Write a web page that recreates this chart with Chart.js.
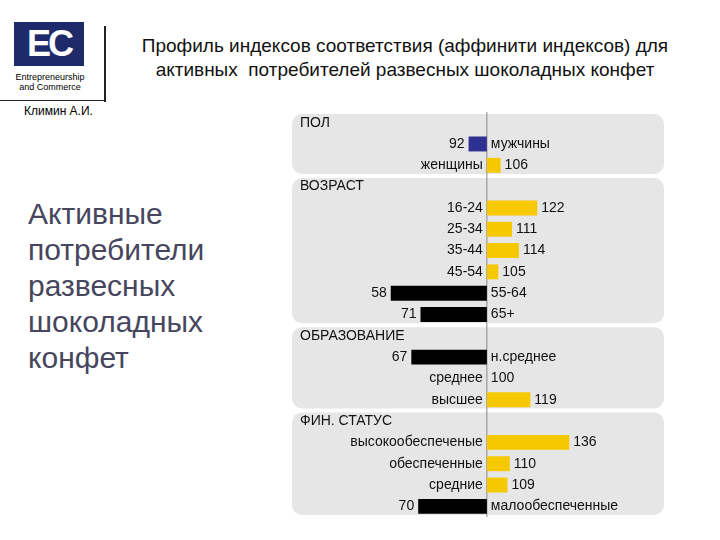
<!DOCTYPE html>
<html><head><meta charset="utf-8">
<script src="https://cdn.jsdelivr.net/npm/chart.js@4"></script>
<style>
body{margin:0;width:720px;height:540px;background:#fff;font-family:"Liberation Sans",Arial,sans-serif;position:relative;overflow:hidden}
.abs{position:absolute}
</style></head><body>
<div class="abs" style="left:14px;top:22px;width:70px;height:44px;background:#1f2a6b;color:#fff;font:bold 36px 'Liberation Sans';line-height:44px;text-align:center;letter-spacing:-3px">EC</div>
<div class="abs" style="left:8px;top:72px;font-size:9px;line-height:10px;text-align:center;width:84px">Entrepreneurship<br>and Commerce</div>
<div class="abs" style="left:104px;top:26px;width:2px;height:76px;background:#222"></div>
<div class="abs" style="left:0;top:100px;width:106px;height:1px;background:#222"></div>
<div class="abs" style="left:24px;top:104px;font-size:12px">Климин А.И.</div>
<div class="abs" style="left:110px;top:34px;width:590px;text-align:center;font-size:19px;line-height:24px;color:#111">Профиль индексов соответствия (аффинити индексов) для активных&nbsp; потребителей развесных шоколадных конфет</div>
<div class="abs" style="left:28px;top:196px;font-size:30px;line-height:36px;color:#46465e">Активные<br>потребители<br>развесных<br>шоколадных<br>конфет</div>
<canvas id="c" class="abs" style="left:290px;top:112px"></canvas>
<script>
const categories = ['ПОЛ','мужчины','женщины','ВОЗРАСТ','16-24','25-34','35-44','45-54','55-64','65+','ОБРАЗОВАНИЕ','н.среднее','среднее','высшее','ФИН. СТАТУС','высокообеспеченые','обеспеченные','средние','малообеспеченные'];
const values = [null,92,106,null,122,111,114,105,58,71,null,67,100,119,null,136,110,109,70];
const barColors = [null,'#2e3192','#f5c800',null,'#f5c800','#f5c800','#f5c800','#f5c800','#000','#000',null,'#000','#f5c800','#f5c800',null,'#f5c800','#f5c800','#f5c800','#000'];
const headerRows = [0,3,10,14];
const baseline = 100;

const cv = document.getElementById('c');
cv.width = 380; cv.height = 405;

const decor = {
  id: 'decor',
  beforeDatasetsDraw(chart) {
    const ctx = chart.ctx, y = chart.scales.y, x = chart.scales.x;
    const step = y.getPixelForValue(1) - y.getPixelForValue(0);
    ctx.save();
    ctx.fillStyle = '#e6e6e6';
    headerRows.forEach((h, i) => {
      const end = i + 1 < headerRows.length ? headerRows[i + 1] - 1 : categories.length - 1;
      const top = y.getPixelForValue(h) - step / 2 + 2, bot = y.getPixelForValue(end) + step / 2 - 2;
      ctx.beginPath();
      ctx.roundRect(2, top, 372, bot - top, 10);
      ctx.fill();
    });
    ctx.strokeStyle = '#888'; ctx.lineWidth = 1;
    const bx = x.getPixelForValue(baseline);
    ctx.beginPath(); ctx.moveTo(bx, 0); ctx.lineTo(bx, chart.height); ctx.stroke();
    ctx.restore();
  },
  afterDatasetsDraw(chart) {
    const ctx = chart.ctx, y = chart.scales.y, x = chart.scales.x;
    const bx = x.getPixelForValue(baseline);
    ctx.save();
    ctx.font = '14px "Liberation Sans", Arial';
    ctx.fillStyle = '#111';
    ctx.textBaseline = 'middle';
    categories.forEach((c, i) => {
      const py = y.getPixelForValue(i);
      const v = values[i];
      if (v === null) {
        ctx.textAlign = 'left';
        ctx.fillText(c, 10, py);
        return;
      }
      const vx = x.getPixelForValue(v);
      if (v < baseline) {
        ctx.textAlign = 'right'; ctx.fillText(String(v), vx - 4, py);
        ctx.textAlign = 'left'; ctx.fillText(c, bx + 4, py);
      } else {
        ctx.textAlign = 'right'; ctx.fillText(c, bx - 4, py);
        ctx.textAlign = 'left'; ctx.fillText(String(v), vx + 4, py);
      }
    });
    ctx.restore();
  }
};

new Chart(cv, {
  type: 'bar',
  data: {
    labels: categories,
    datasets: [{
      data: values.map(v => v === null || v === baseline ? null : [baseline, v]),
      backgroundColor: barColors,
      barPercentage: 0.7,
      categoryPercentage: 1
    }]
  },
  options: {
    indexAxis: 'y',
    responsive: false,
    animation: false,
    layout: { padding: 0 },
    plugins: { legend: { display: false }, tooltip: { enabled: false } },
    scales: {
      x: { display: false, min: 14, max: 180 },
      y: { display: false }
    }
  },
  plugins: [decor]
});
</script>
</body></html>
